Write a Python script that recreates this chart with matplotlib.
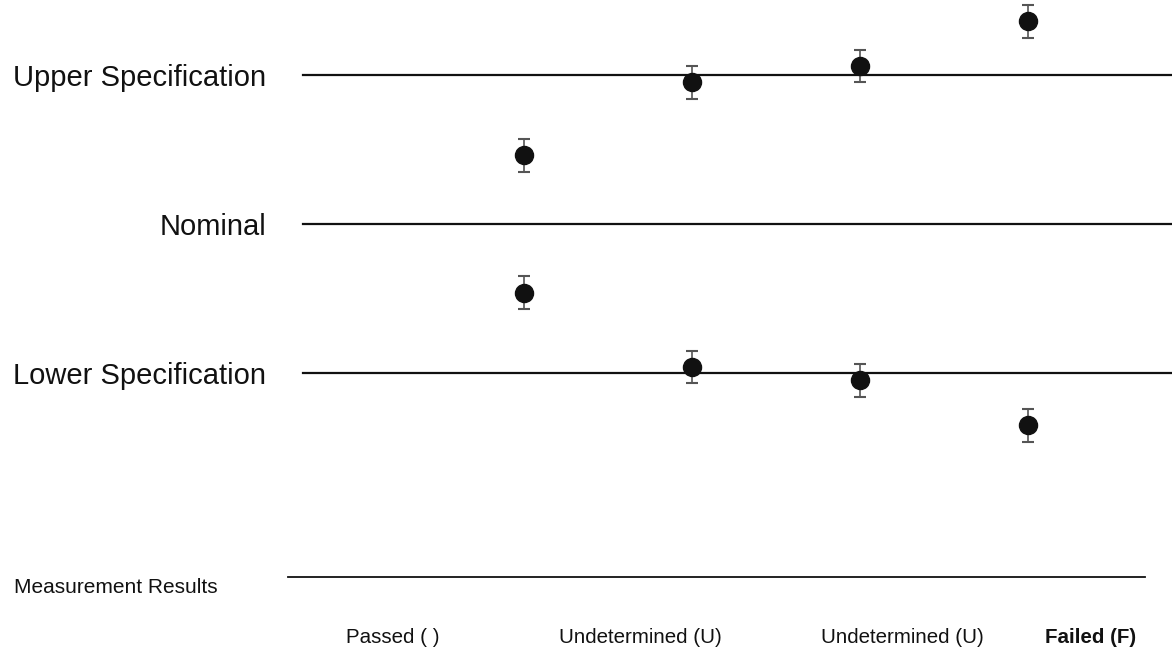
import matplotlib.pyplot as plt

# specification levels (nominal = 0, spec limits = +/-1)
spec_names = ['Upper Specification', 'Nominal', 'Lower Specification']
spec_values = [1.0, 0.0, -1.0]

# measurement outcomes, one column per case
categories = ['Passed ( )', 'Undetermined (U)', 'Undetermined (U)', 'Failed (F)']
upper_results = [0.46, 0.95, 1.06, 1.36]
lower_results = [-0.46, -0.96, -1.05, -1.35]
uncertainty = [0.11, 0.11, 0.11, 0.11]

plt.rcParams['font.family'] = ['Liberation Sans', 'DejaVu Sans']

fig = plt.figure(figsize=(11.72, 6.52), dpi=100)
ax = fig.add_axes([0, 0, 1, 1])
ax.set_xlim(-3.119, 3.857)
ax.set_ylim(-2.872, 1.503)
ax.axis('off')

# spec lines and their labels
for name, val in zip(spec_names, spec_values):
    ax.plot([-1.315, 3.9], [val, val], color='#111111', lw=1.6)
    ax.text(-1.536, val - 0.02, name, ha='right', va='center', fontsize=21, color='#111111')

# results with error bars
x = list(range(len(categories)))
for ys in (upper_results, lower_results):
    ax.errorbar(x, ys, yerr=uncertainty, fmt='o', color='#111111', ecolor='#555555',
                markersize=13, elinewidth=1.2, capsize=4, capthick=1.5)

# measurement results axis
ax.plot([-1.405, 3.696], [-2.37, -2.37], color='#111111', lw=1.3)
ax.text(-3.036, -2.436, 'Measurement Results', ha='left', va='center', fontsize=15, color='#111111')

label_x = [-0.78, 0.69, 2.25, 3.37]
for lx, cat in zip(label_x, categories):
    weight = 'bold' if cat.startswith('Failed') else 'normal'
    ax.text(lx, -2.772, cat, ha='center', va='center', fontsize=14.8, fontweight=weight,
            color='#111111')

fig.savefig('out.png', dpi=100)
